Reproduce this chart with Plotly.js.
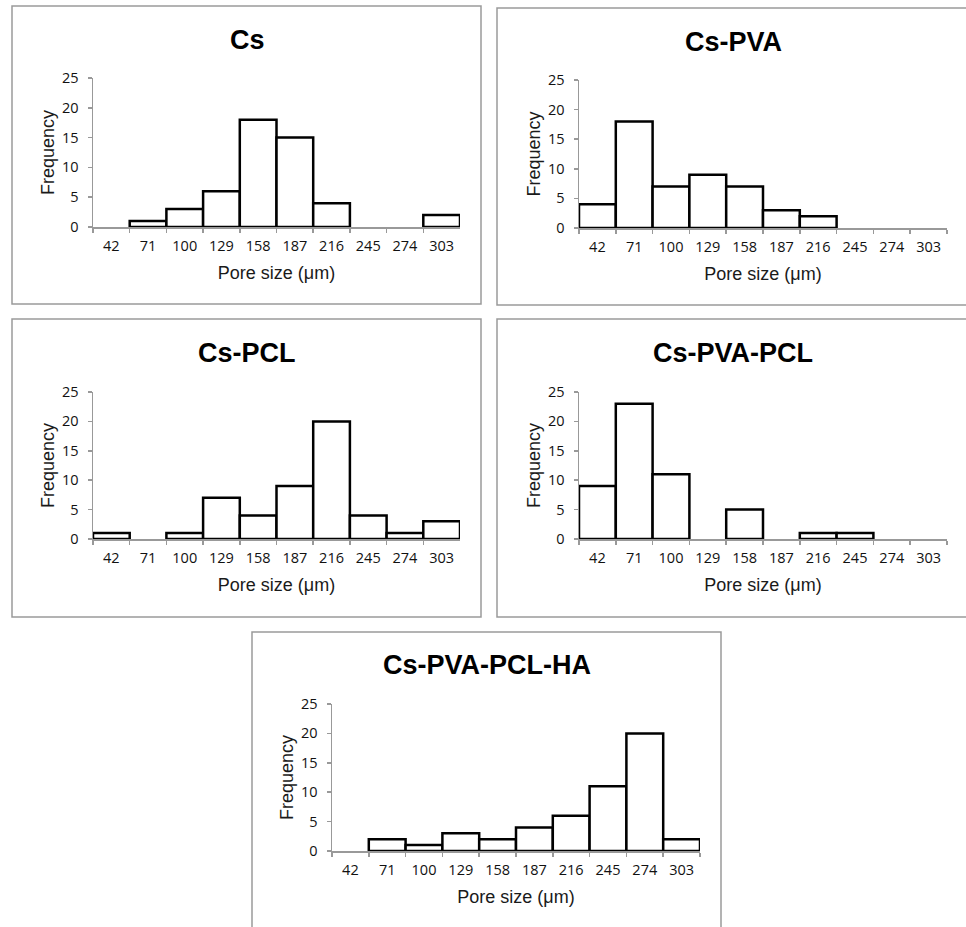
<!DOCTYPE html>
<html>
<head>
<meta charset="utf-8">
<script src="https://cdn.plot.ly/plotly-3.0.1.min.js"></script>
<style>html,body{margin:0;padding:0;background:#fff;}#chart{width:966px;height:927px;}</style>
</head>
<body>
<div id="chart"></div>
<script>
// ---- data ----
const poreSizes = ["42", "71", "100", "129", "158", "187", "216", "245", "274", "303"];
const panelTitles = ["Cs", "Cs-PVA", "Cs-PCL", "Cs-PVA-PCL", "Cs-PVA-PCL-HA"];
const freqCs = [0, 1, 3, 6, 18, 15, 4, 0, 0, 2];
const freqCsPVA = [4, 18, 7, 9, 7, 3, 2, 0, 0, 0];
const freqCsPCL = [1, 0, 1, 7, 4, 9, 20, 4, 1, 3];
const freqCsPVAPCL = [9, 23, 11, 0, 5, 0, 1, 1, 0, 0];
const freqCsPVAPCLHA = [0, 2, 1, 3, 2, 4, 6, 11, 20, 2];
const xTitle = "Pore size (μm)";
const yTitle = "Frequency";
const yTicks = [0, 5, 10, 15, 20, 25];

// ---- layout (pixel geometry) ----
const W = 966, H = 927;
const px = x => x / W;
const py = y => 1 - y / H;
const series = [freqCs, freqCsPVA, freqCsPCL, freqCsPVAPCL, freqCsPVAPCLHA];
// plot area [left, right, top(y=25), bottom(y=0)], box [x0,y0,x1,y1], title center
const geo = [
  {plot: [93, 460, 78, 227], box: [12, 6, 481, 304], title: [247, 40]},
  {plot: [579, 947, 80, 228], box: [497, 8, 980, 305], title: [733, 42]},
  {plot: [93, 460, 392, 539], box: [12, 319, 481, 617], title: [247, 353]},
  {plot: [579, 947, 392, 539], box: [497, 319, 980, 617], title: [733, 353]},
  {plot: [332, 700, 704, 851], box: [252, 632, 721, 940], title: [487, 665]}
];

const traces = [];
const layout = {
  width: W, height: H,
  margin: {l: 0, r: 0, t: 0, b: 0},
  paper_bgcolor: "#ffffff", plot_bgcolor: "rgba(0,0,0,0)",
  showlegend: false, bargap: 0,
  shapes: [], annotations: []
};

const tickFont = {family: "Open Sans, DejaVu Sans, sans-serif", size: 14.5, color: "#111"};
const titleFont = {family: "Liberation Sans, Arial, sans-serif", size: 18, color: "#1a1a1a"};

geo.forEach((g, i) => {
  const n = i === 0 ? "" : String(i + 1);
  traces.push({
    type: "bar", x: poreSizes, y: series[i],
    xaxis: "x" + n, yaxis: "y" + n,
    marker: {color: "#ffffff", line: {color: "#000000", width: series[i].map(v => v === 0 ? 0 : 2.5)}},
    hoverinfo: "x+y"
  });
  layout["xaxis" + n] = {
    domain: [px(g.plot[0]), px(g.plot[1])],
    anchor: "y" + n,
    type: "category", categoryorder: "array", categoryarray: poreSizes,
    range: [-0.5, 9.5], tickson: "boundaries",
    ticks: "outside", ticklen: 4, tickcolor: "#999", tickwidth: 1.5,
    showline: true, linecolor: "#999", linewidth: 1.5,
    showgrid: false, zeroline: false, fixedrange: true,
    tickfont: tickFont, ticklabelstandoff: 5,
    title: {text: xTitle, font: titleFont, standoff: 12}
  };
  layout["yaxis" + n] = {
    domain: [py(g.plot[3]), py(g.plot[2])],
    anchor: "x" + n,
    range: [0, 25], tickvals: yTicks, ticktext: yTicks.map(String),
    ticks: "outside", ticklen: 4, tickcolor: "#999", tickwidth: 1.5,
    showline: true, linecolor: "#999", linewidth: 1.5,
    showgrid: false, zeroline: false, fixedrange: true,
    tickfont: tickFont, ticklabelstandoff: 6,
    title: {text: yTitle, font: titleFont, standoff: 2}
  };
  layout.shapes.push({
    type: "rect", xref: "paper", yref: "paper",
    x0: px(g.box[0]), x1: px(g.box[2]), y0: py(g.box[3]), y1: py(g.box[1]),
    line: {color: "#9a9a9a", width: 1.5}, fillcolor: "rgba(0,0,0,0)", layer: "below"
  });
  layout.annotations.push({
    xref: "paper", yref: "paper", x: px(g.title[0]), y: py(g.title[1]),
    xanchor: "center", yanchor: "middle", showarrow: false,
    text: "<b>" + panelTitles[i] + "</b>",
    font: {family: "Liberation Sans, Arial, sans-serif", size: 27, color: "#000"}
  });
});

Plotly.newPlot("chart", traces, layout, {displayModeBar: false, staticPlot: true});
</script>
</body>
</html>
